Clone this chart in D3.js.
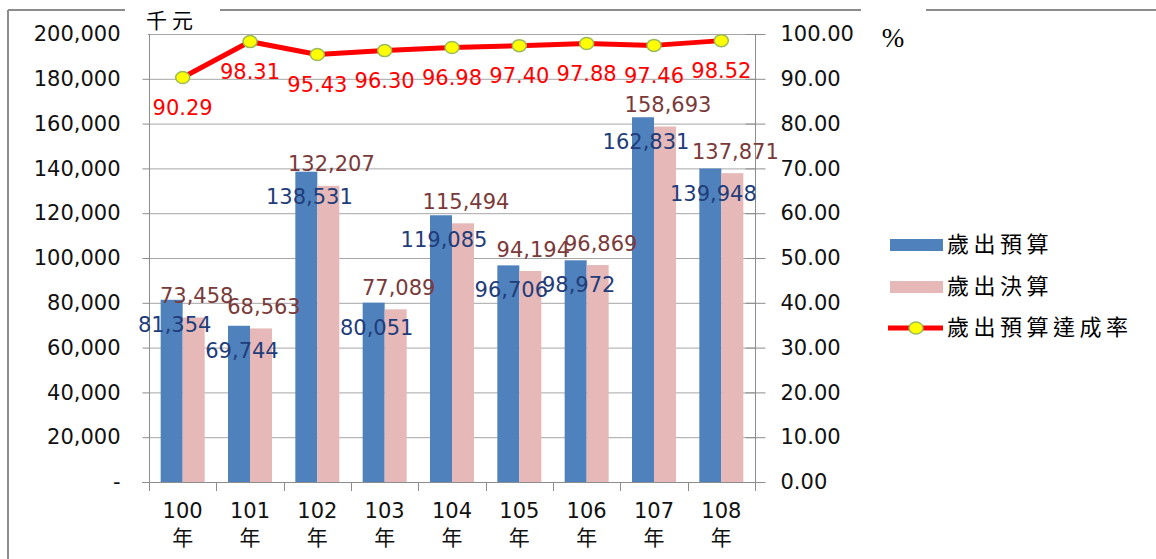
<!DOCTYPE html>
<html>
<head>
<meta charset="utf-8">
<script src="https://cdn.jsdelivr.net/npm/d3@7/dist/d3.min.js"></script>
<style>
  html, body { margin: 0; padding: 0; background: #fff; }
  svg { display: block; }
</style>
</head>
<body>
<svg id="chart" width="1156" height="559"></svg>
<script>
// ---- data ----
const categories = ["100", "101", "102", "103", "104", "105", "106", "107", "108"];
const budget = [81354, 69744, 138531, 80051, 119085, 96706, 98972, 162831, 139948];      // 歲出預算
const finalAcct = [73458, 68563, 132207, 77089, 115494, 94194, 96869, 158693, 137871];   // 歲出決算
const rate = [90.29, 98.31, 95.43, 96.30, 96.98, 97.40, 97.88, 97.46, 98.52];            // 歲出預算達成率
const leftTicks = [0, 20000, 40000, 60000, 80000, 100000, 120000, 140000, 160000, 180000, 200000];
const rightTicks = [0, 10, 20, 30, 40, 50, 60, 70, 80, 90, 100];
const seriesNames = ["歲出預算", "歲出決算", "歲出預算達成率"];
const unitLeft = "千元";
const unitRight = "%";
const yearSuffix = "年";

// ---- styles ----
const C_BLUE = "#4F81BD", C_PINK = "#E6B9B8", C_RED = "#FF0000", C_YEL = "#FFFF00", C_MK = "#9BBB59";
const C_BLUE_LBL = "#1F3D7A", C_PINK_LBL = "#7A3A3A";
const C_GRID = "#A6A6A6", C_AXIS = "#8C8C8C";
const NUM_FONT = "'DejaVu Sans', Verdana, sans-serif";
const CJK_FONT = "'Noto Sans CJK TC', 'Noto Sans CJK SC', sans-serif";

const svg = d3.select("#chart");
const plot = { left: 149, right: 755, top: 34, bottom: 482 };

const x0 = d3.scaleBand().domain(categories).range([plot.left, plot.right]).paddingInner(0.3465).paddingOuter(0.3465 / 2);
const x1 = d3.scaleBand().domain(["b", "f"]).range([0, x0.bandwidth()]);
const yL = d3.scaleLinear().domain([0, 200000]).range([plot.bottom, plot.top]);
const yR = d3.scaleLinear().domain([0, 100]).range([plot.bottom, plot.top]);
const cx = c => x0(c) + x0.bandwidth() / 2;

// outer frame
svg.append("line").attr("x1", 8).attr("x2", 1156).attr("y1", 10).attr("y2", 10).attr("stroke", C_AXIS).attr("stroke-width", 2);
svg.append("line").attr("x1", 8).attr("x2", 8).attr("y1", 10).attr("y2", 559).attr("stroke", C_AXIS).attr("stroke-width", 2);

// gridlines
svg.append("g").selectAll("line").data(leftTicks.filter(d => d > 0)).join("line")
  .attr("x1", plot.left).attr("x2", plot.right)
  .attr("y1", d => yL(d) + 0.5).attr("y2", d => yL(d) + 0.5)
  .attr("stroke", C_GRID).attr("stroke-width", 1);

// left axis
const axL = svg.append("g").attr("transform", `translate(${plot.left + 0.5},0)`)
  .call(d3.axisLeft(yL).tickValues(leftTicks).tickSize(7).tickPadding(22)
    .tickFormat(d => d === 0 ? "-" : d3.format(",")(d)));
axL.select(".domain").attr("stroke", C_AXIS).attr("d", `M0,${plot.top}V${plot.bottom + 9}`);
axL.selectAll(".tick line").attr("stroke", C_AXIS);
axL.selectAll(".tick text").attr("font-family", NUM_FONT).attr("font-size", 21).attr("fill", "#111");

// right axis
const axR = svg.append("g").attr("transform", `translate(${plot.right + 0.5},0)`)
  .call(d3.axisRight(yR).tickValues(rightTicks).tickSize(10).tickPadding(15).tickFormat(d3.format(".2f")));
axR.select(".domain").attr("stroke", C_AXIS).attr("d", `M0,${plot.top}V${plot.bottom + 9}`);
axR.selectAll(".tick line").attr("stroke", C_AXIS).attr("x1", -10);
axR.selectAll(".tick text").attr("font-family", NUM_FONT).attr("font-size", 21).attr("fill", "#111");

// bottom axis
const bottomBounds = categories.map(c => x0(c) - x0.step() * x0.paddingInner() / 2).concat([plot.right]);
svg.append("line").attr("x1", plot.left - 7).attr("x2", plot.right + 10)
  .attr("y1", plot.bottom + 0.5).attr("y2", plot.bottom + 0.5).attr("stroke", C_AXIS);
svg.append("g").selectAll("line").data(bottomBounds).join("line")
  .attr("x1", d => Math.round(d) + 0.5).attr("x2", d => Math.round(d) + 0.5)
  .attr("y1", plot.bottom).attr("y2", plot.bottom + 9).attr("stroke", C_AXIS);
const catG = svg.append("g").selectAll("g").data(categories).join("g");
catG.append("text").attr("x", d => cx(d)).attr("y", 510).attr("dy", "0.36em")
  .attr("text-anchor", "middle").attr("font-family", NUM_FONT).attr("font-size", 21).attr("fill", "#111")
  .text(d => d);
catG.append("text").attr("x", d => cx(d)).attr("y", 537).attr("dy", "0.36em")
  .attr("text-anchor", "middle").attr("font-family", CJK_FONT).attr("font-size", 21).attr("fill", "#111")
  .text(yearSuffix);

// bars
svg.append("g").selectAll("rect").data(categories).join("rect")
  .attr("x", (c) => x0(c) + x1("b")).attr("width", x1.bandwidth())
  .attr("y", (c, i) => yL(budget[i])).attr("height", (c, i) => yL(0) - yL(budget[i]))
  .attr("fill", C_BLUE);
svg.append("g").selectAll("rect").data(categories).join("rect")
  .attr("x", (c) => x0(c) + x1("f")).attr("width", x1.bandwidth())
  .attr("y", (c, i) => yL(finalAcct[i])).attr("height", (c, i) => yL(0) - yL(finalAcct[i]))
  .attr("fill", C_PINK);

// bar labels
svg.append("g").selectAll("text").data(categories).join("text")
  .attr("x", c => x0(c) + x1("b") + x1.bandwidth() / 2 + 3)
  .attr("y", (c, i) => yL(budget[i]) + 24.5).attr("dy", "0.36em")
  .attr("text-anchor", "middle").attr("font-family", NUM_FONT).attr("font-size", 21).attr("fill", C_BLUE_LBL)
  .text((c, i) => d3.format(",")(budget[i]));
svg.append("g").selectAll("text").data(categories).join("text")
  .attr("x", c => x0(c) + x1("f") + x1.bandwidth() / 2 + 3)
  .attr("y", (c, i) => yL(finalAcct[i]) - 22).attr("dy", "0.36em")
  .attr("text-anchor", "middle").attr("font-family", NUM_FONT).attr("font-size", 21).attr("fill", C_PINK_LBL)
  .text((c, i) => d3.format(",")(finalAcct[i]));

// line
const line = d3.line().x((d, i) => cx(categories[i])).y(d => yR(d));
svg.append("path").datum(rate).attr("d", line).attr("fill", "none")
  .attr("stroke", C_RED).attr("stroke-width", 5).attr("stroke-linejoin", "round");
svg.append("g").selectAll("ellipse").data(rate).join("ellipse")
  .attr("cx", (d, i) => cx(categories[i])).attr("cy", d => yR(d))
  .attr("rx", 7).attr("ry", 6).attr("fill", C_YEL).attr("stroke", C_MK).attr("stroke-width", 1.5);
svg.append("g").selectAll("text").data(rate).join("text")
  .attr("x", (d, i) => cx(categories[i])).attr("y", d => yR(d) + 30).attr("dy", "0.36em")
  .attr("text-anchor", "middle").attr("font-family", NUM_FONT).attr("font-size", 21).attr("fill", C_RED)
  .text(d => d3.format(".2f")(d));

// unit labels with white backgrounds
svg.append("rect").attr("x", 125).attr("y", 0).attr("width", 95).attr("height", 33).attr("fill", "#fff");
svg.append("rect").attr("x", 125).attr("y", 33).attr("width", 23).attr("height", 13).attr("fill", "#fff");
svg.append("text").attr("x", 146).attr("y", 20).attr("dy", "0.36em")
  .attr("font-family", CJK_FONT).attr("font-size", 21).attr("letter-spacing", 5).attr("fill", "#000")
  .text(unitLeft);
svg.append("rect").attr("x", 861).attr("y", 0).attr("width", 65).attr("height", 30).attr("fill", "#fff");
svg.append("text").attr("x", 893).attr("y", 37).attr("dy", "0.36em").attr("text-anchor", "middle")
  .attr("font-family", "'Liberation Serif', serif").attr("font-size", 27).attr("fill", "#000")
  .text(unitRight);

// legend
const lg = svg.append("g");
const legendRows = [245, 287, 328];
lg.append("rect").attr("x", 890).attr("y", legendRows[0] - 6).attr("width", 53).attr("height", 12).attr("fill", C_BLUE);
lg.append("rect").attr("x", 890).attr("y", legendRows[1] - 6).attr("width", 53).attr("height", 12).attr("fill", C_PINK);
lg.append("line").attr("x1", 888).attr("x2", 943).attr("y1", legendRows[2]).attr("y2", legendRows[2])
  .attr("stroke", C_RED).attr("stroke-width", 5);
lg.append("ellipse").attr("cx", 916).attr("cy", legendRows[2]).attr("rx", 7).attr("ry", 6)
  .attr("fill", C_YEL).attr("stroke", C_MK).attr("stroke-width", 1.5);
lg.selectAll("text").data(seriesNames).join("text")
  .attr("x", 947).attr("y", (d, i) => legendRows[i] - 1).attr("dy", "0.36em")
  .attr("font-family", CJK_FONT).attr("font-size", 22).attr("letter-spacing", 4.5).attr("fill", "#000")
  .text(d => d);
</script>
</body>
</html>
